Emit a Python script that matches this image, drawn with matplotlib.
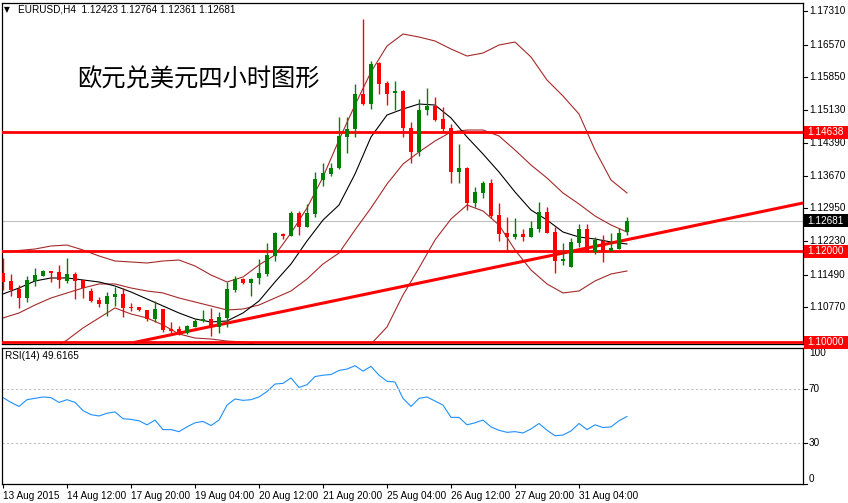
import numpy as np
import matplotlib
matplotlib.use("Agg")
import matplotlib.pyplot as plt
from matplotlib.transforms import blended_transform_factory
from matplotlib.patches import Rectangle

# ---------------- data ----------------
opens = [1.11525,1.11348,1.11171,1.10972,1.11348,1.11458,1.11569,1.11547,1.11348,1.11502,
         1.11370,1.11127,1.10928,1.10840,1.10995,1.11061,1.10752,1.10774,1.10707,1.10509,
         1.10729,1.10287,1.10287,1.10199,1.10332,1.10464,1.10509,1.10332,1.10531,1.11149,
         1.11392,1.11304,1.11414,1.11502,1.11900,1.12385,1.12341,1.12849,1.12540,1.12827,
         1.13578,1.13710,1.13843,1.14528,1.14704,1.15477,1.15256,1.16162,1.15720,1.15499,
         1.15543,1.14726,1.14196,1.15124,1.15212,1.14925,1.14726,1.13754,1.13843,1.13070,
         1.13291,1.13512,1.12805,1.12407,1.12319,1.12385,1.12319,1.12496,1.12871,1.12429,
         1.11789,1.11657,1.12187,1.12496,1.11988,1.12231,1.12010,1.12054,1.12423]
highs = [1.11855,1.11502,1.11260,1.11458,1.11635,1.11591,1.11569,1.11701,1.11855,1.11547,
         1.11370,1.11193,1.10995,1.11105,1.11215,1.11193,1.10862,1.10774,1.10707,1.10906,
         1.10729,1.10442,1.10354,1.10376,1.10509,1.10707,1.10752,1.10663,1.11326,1.11458,
         1.11414,1.11414,1.11833,1.12187,1.12429,1.12407,1.12893,1.12893,1.13048,1.13754,
         1.13953,1.13953,1.14969,1.14969,1.15698,1.17133,1.16206,1.16184,1.15764,1.15764,
         1.15565,1.14859,1.15367,1.15610,1.15411,1.15190,1.14814,1.14373,1.13865,1.13423,
         1.13556,1.13600,1.13070,1.12761,1.12739,1.12496,1.12672,1.13092,1.12982,1.12540,
         1.12187,1.12297,1.12606,1.12606,1.12319,1.12363,1.12407,1.12518,1.12764]
lows = [1.11149,1.11017,1.10752,1.10884,1.11237,1.11458,1.11326,1.11193,1.11304,1.10950,
        1.10972,1.10884,1.10774,1.10575,1.10796,1.10553,1.10685,1.10685,1.10464,1.10442,
        1.10221,1.10155,1.10155,1.10177,1.10332,1.10442,1.10133,1.10199,1.10332,1.11105,
        1.11282,1.11017,1.11282,1.11458,1.11789,1.12275,1.12341,1.12363,1.12540,1.12761,
        1.13445,1.13666,1.13821,1.14174,1.14528,1.15234,1.15146,1.15477,1.15234,1.15124,
        1.14528,1.13953,1.14108,1.15013,1.14881,1.14660,1.13512,1.13512,1.12915,1.12982,
        1.13180,1.12739,1.12231,1.11988,1.12275,1.12231,1.12319,1.12429,1.12407,1.11525,
        1.11701,1.11657,1.12098,1.11988,1.11944,1.11767,1.11988,1.12054,1.12361]
closes = [1.11326,1.11149,1.10972,1.11370,1.11480,1.11569,1.11525,1.11370,1.11502,1.11348,
          1.11193,1.10906,1.10840,1.11017,1.11061,1.10752,1.10741,1.10707,1.10509,1.10729,
          1.10265,1.10243,1.10199,1.10354,1.10464,1.10509,1.10332,1.10553,1.11171,1.11392,
          1.11304,1.11392,1.11525,1.11922,1.12407,1.12341,1.12849,1.12540,1.12849,1.13600,
          1.13732,1.13843,1.14550,1.14704,1.15477,1.15256,1.16140,1.15698,1.15477,1.15543,
          1.14726,1.14196,1.15124,1.15212,1.14903,1.14704,1.13754,1.13843,1.13070,1.13313,
          1.13512,1.12783,1.12385,1.12319,1.12385,1.12319,1.12518,1.12871,1.12407,1.11789,
          1.11833,1.12209,1.12496,1.12010,1.12253,1.11988,1.12076,1.12407,1.12681]

# indicator lines read at every second bar (bar 0, 2, ..., 78)
band_upper = [1.11988,1.12021,1.12054,1.12120,1.12142,1.12032,1.11900,1.11789,1.11767,1.11745,
              1.11789,1.11811,1.11679,1.11480,1.11326,1.11436,1.11701,1.11922,1.12407,1.12960,
              1.13644,1.14461,1.15234,1.15963,1.16537,1.16802,1.16736,1.16648,1.16471,1.16316,
              1.16382,1.16559,1.16625,1.16294,1.15786,1.15433,1.15035,1.14240,1.13578,1.13291]
band_middle = [1.10531,1.10641,1.10817,1.10972,1.11083,1.11193,1.11282,1.11282,1.11193,1.11127,
               1.11083,1.10972,1.10884,1.10796,1.10707,1.10729,1.10817,1.10972,1.11127,1.11392,
               1.11723,1.11966,1.12474,1.12960,1.13489,1.13931,1.14196,1.14439,1.14638,1.14682,
               1.14682,1.14550,1.14240,1.13909,1.13622,1.13291,1.13048,1.12783,1.12584,1.12429]
band_lower = [1.09072,1.09260,1.09581,1.09823,1.10044,1.10310,1.10531,1.10752,1.10619,1.10531,
              1.10376,1.10177,1.10088,1.10066,1.10022,1.10000,1.09934,1.09912,1.09845,1.09823,
              1.09801,1.09470,1.09713,1.09956,1.10332,1.11039,1.11635,1.12253,1.12716,1.13026,
              1.12893,1.12584,1.12032,1.11591,1.11282,1.11083,1.11127,1.11348,1.11502,1.11569]
ma_line = [1.11061,1.11193,1.11348,1.11414,1.11414,1.11370,1.11326,1.11237,1.11105,1.10950,
           1.10796,1.10641,1.10509,1.10442,1.10464,1.10641,1.10906,1.11326,1.11723,1.12231,
           1.12694,1.13026,1.13710,1.14528,1.15013,1.15146,1.15256,1.15234,1.14947,1.14528,
           1.14152,1.13754,1.13313,1.12915,1.12694,1.12429,1.12319,1.12275,1.12209,1.12165]

rsi = [63.5,60,57,62,63,64,63.5,60,62,60,54,51,50,52,53,48,47.5,46.5,43.5,47,
       40,40,38.5,42,45,46,43,47,58,62.5,61.5,62,64,68,73.5,74,78,71,73,79,
       80,80.5,83.5,84.5,87,83,86.5,80,75.5,75,63,57,63,64,61,58,49,49,43.5,45,
       47,42,39.5,38,38.5,37.5,40.5,44.5,39.5,35.5,36,39,44.5,40,43.5,41.5,42,46.5,49.6165]

level_lines = [1.14638, 1.12000, 1.10000]
bid_price = 1.12681
trend_bars = [16.4, 100.0]
trend_prices = [1.0999, 1.1307]

price_ticks = [1.17310,1.16570,1.15850,1.15130,1.14390,1.13670,1.12950,1.12230,1.11490,1.10770]
rsi_ticks = [100, 70, 30, 0]
time_tick_bars = [0, 8, 16, 24, 32, 40, 48, 56, 64, 72]
time_labels = ["13 Aug 2015", "14 Aug 12:00", "17 Aug 20:00", "19 Aug 04:00", "20 Aug 12:00",
               "21 Aug 20:00", "25 Aug 04:00", "26 Aug 12:00", "27 Aug 20:00", "31 Aug 04:00"]

title_cn = "欧元兑美元四小时图形"
header = "EURUSD,H4  1.12423 1.12764 1.12361 1.12681"

# ---------------- figure ----------------
W, H = 848, 503
fig = plt.figure(figsize=(W / 100, H / 100), dpi=100)
fig.patch.set_facecolor("white")
FONT = "Liberation Sans"
FS = 7.2


def rect(l, t, r, b):
    return [l / W, 1 - b / H, (r - l) / W, (b - t) / H]


ax = fig.add_axes(rect(2, 3, 803, 344))
axr = fig.add_axes(rect(2, 348, 803, 484))

XMIN, XMAX = -0.125, 100.0
for a in (ax, axr):
    a.set_xlim(XMIN, XMAX)
    for s in a.spines.values():
        s.set_linewidth(0.9)
        s.set_color("black")
    a.set_yticks([])

ax.set_ylim(1.09956, 1.17487)
ax.set_xticks([])

x = np.arange(len(opens))
o = np.array(opens); hi = np.array(highs); lo = np.array(lows); c = np.array(closes)
up = c >= o
cols = np.where(up, "#008000", "#ff0000")

# bid line
ax.axhline(bid_price, color="#c0c0c0", lw=0.8, zorder=1)

# indicators
xb = np.arange(0, len(opens), 2)
for arr in (band_upper, band_middle, band_lower):
    ax.plot(xb, arr, color="#a52a2a", lw=0.8, zorder=2)
ax.plot(xb, ma_line, color="black", lw=0.8, zorder=2)

# levels
for lv in level_lines:
    ax.axhline(lv, color="#ff0000", lw=2.0, zorder=3)
ax.plot(trend_bars, trend_prices, color="#ff0000", lw=2.2, zorder=3, solid_capstyle="butt")

# candles
ax.vlines(x, lo, hi, colors=cols, lw=1.0, zorder=4)
body_b = np.minimum(o, c)
body_h = np.maximum(np.abs(c - o), 0.00022)
ax.bar(x, body_h, bottom=body_b, width=0.62, color=cols, linewidth=0, zorder=5)

# right price axis
tr = blended_transform_factory(ax.transAxes, ax.transData)
dx = 1.0 / 801
for v in price_ticks:
    ax.plot([1, 1 + 4 * dx], [v, v], transform=tr, clip_on=False, color="black", lw=0.8)
    ax.text(1 + 6 * dx, v, f"{v:.5f}", transform=tr, ha="left", va="center",
            fontsize=FS, family=FONT, color="black", clip_on=False)

fig.canvas.draw()
boxes = [(1.14638, "#ff0000"), (bid_price, "#000000"), (1.12000, "#ff0000"), (1.10000, "#ff0000")]
for v, fc in boxes:
    yd = ax.transData.transform((0, v))[1]
    fig.patches.append(Rectangle((804 / W, (yd - 6.5) / H), 44 / W, 13 / H,
                                 transform=fig.transFigure, facecolor=fc, edgecolor="none"))
    fig.text(807 / W, yd / H, f"{v:.5f}", ha="left", va="center", fontsize=FS,
             family=FONT, color="white")

# ---------------- RSI panel ----------------
axr.set_ylim(0, 100)
axr.plot(x, rsi, color="#1e90ff", lw=0.8)
for lv in (70, 30):
    axr.axhline(lv, color="#c0c0c0", lw=0.8, linestyle=(0, (2, 2)))
trr = blended_transform_factory(axr.transAxes, axr.transData)
for v in rsi_ticks:
    va = "top" if v == 100 else ("bottom" if v == 0 else "center")
    axr.plot([1, 1 + 4 * dx], [v, v], transform=trr, clip_on=False, color="black", lw=0.8)
    axr.text(1 + 6 * dx, v, str(v), transform=trr, ha="left", va=va,
             fontsize=FS, family=FONT, color="black", clip_on=False)

axr.set_xticks(time_tick_bars)
axr.set_xticklabels(time_labels, fontsize=FS, family=FONT)
axr.tick_params(axis="x", direction="out", length=3, width=0.8, pad=2)
for lab in axr.get_xticklabels():
    lab.set_ha("left")

fig.text(5 / W, 1 - 356 / H, "RSI(14) 49.6165", fontsize=FS, family=FONT, va="center")

# header and title
fig.text(4 / W, 1 - 10 / H, "\u25BC", fontsize=5.5, family="DejaVu Sans", va="center")
fig.text(18 / W, 1 - 10 / H, header, fontsize=FS, family=FONT, va="center")
fig.text(77 / W, 1 - 80 / H, title_cn, fontsize=17.5, family=["Noto Sans CJK SC", "DejaVu Sans"],
         fontweight="light", va="center", color="black")

fig.savefig("out.png", dpi=100)
